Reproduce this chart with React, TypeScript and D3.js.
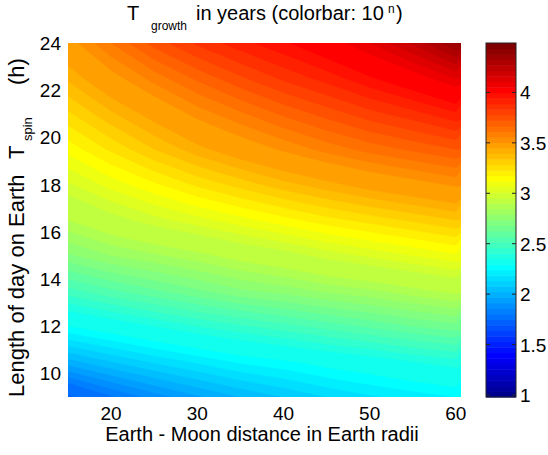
import { useMemo } from 'react'
import * as d3 from 'd3'

// Earth - Moon distance (Earth radii), columns of the grid
const distances = [15, 20, 25, 30, 35, 40, 45, 50, 55, 60]
// length of day (h), rows of the grid, bottom to top
const spins = [9, 10.5, 12, 13.5, 15, 16.5, 18, 19.5, 21, 22.5, 24]
// log10(T_growth / years), one row per spin value
const logGrowth = [
  [1.73, 1.84, 1.92, 1.99, 2.05, 2.10, 2.15, 2.19, 2.22, 2.25],
  [2.03, 2.10, 2.16, 2.21, 2.26, 2.29, 2.33, 2.36, 2.40, 2.43],
  [2.30, 2.35, 2.40, 2.45, 2.49, 2.53, 2.57, 2.61, 2.65, 2.68],
  [2.53, 2.59, 2.64, 2.69, 2.74, 2.77, 2.81, 2.84, 2.88, 2.92],
  [2.74, 2.80, 2.84, 2.88, 2.93, 2.97, 3.02, 3.06, 3.10, 3.14],
  [2.90, 2.97, 3.03, 3.08, 3.13, 3.18, 3.23, 3.27, 3.31, 3.35],
  [3.04, 3.12, 3.19, 3.26, 3.32, 3.38, 3.43, 3.48, 3.52, 3.56],
  [3.17, 3.26, 3.35, 3.43, 3.50, 3.56, 3.62, 3.67, 3.71, 3.75],
  [3.29, 3.39, 3.48, 3.57, 3.64, 3.71, 3.77, 3.83, 3.88, 3.94],
  [3.41, 3.52, 3.62, 3.71, 3.79, 3.86, 3.92, 3.99, 4.06, 4.15],
  [3.52, 3.65, 3.77, 3.86, 3.93, 3.99, 4.06, 4.15, 4.26, 4.40],
]
const xTicks = [20, 30, 40, 50, 60]
const yTicks = [10, 12, 14, 16, 18, 20, 22, 24]
const cbarTicks = [1, 1.5, 2, 2.5, 3, 3.5, 4]
const cLimits = [0.98, 4.49]
const xLimits = [15, 60.6]
const yLimits = [9, 24]
const levelStep = 0.05

const W = 548
const H = 455
const plot = { left: 68, right: 461, top: 43, bottom: 397 }
const cbar = { left: 486, right: 516 }
const font = '"Liberation Sans", Arial, Helvetica, sans-serif'

// matlab jet(64)
function jet(v: number) {
  const n = 64
  let k = Math.floor(((v - cLimits[0]) / (cLimits[1] - cLimits[0])) * n)
  k = Math.max(0, Math.min(n - 1, k))
  const t = (k + 1) / n
  const c = (x: number) => Math.round(255 * Math.max(0, Math.min(1, 1.5 - Math.abs(x))))
  return `rgb(${c(4 * t - 3)},${c(4 * t - 2)},${c(4 * t - 1)})`
}

export default function App() {
  const x = d3.scaleLinear().domain(xLimits).range([plot.left, plot.right])
  const y = d3.scaleLinear().domain(yLimits).range([plot.bottom, plot.top])
  const cy = d3.scaleLinear().domain(cLimits).range([plot.bottom, plot.top])

  const bands = useMemo(() => {
    const nx = distances.length
    const ny = spins.length
    const values = logGrowth.flat()
    const levels = d3.range(Math.round(cLimits[0] / levelStep) + 1, Math.round(cLimits[1] / levelStep) + 1).map(i => i * levelStep)
    const contours = d3.contours().size([nx, ny]).thresholds(levels)(values)
    const dx = distances[1] - distances[0]
    const dy = spins[1] - spins[0]
    const proj = d3.geoTransform({
      point(px, py) {
        this.stream.point(x(distances[0] + (px - 0.5) * dx), y(spins[0] + (py - 0.5) * dy))
      },
    })
    const path = d3.geoPath(proj)
    return contours.map(c => ({ d: path(c) || '', fill: jet(c.value) }))
  }, [])

  const cSteps = d3.range(64).map(k => {
    const v0 = cLimits[0] + ((cLimits[1] - cLimits[0]) * k) / 64
    const v1 = cLimits[0] + ((cLimits[1] - cLimits[0]) * (k + 1)) / 64
    return { v0, v1, fill: jet((v0 + v1) / 2) }
  })

  return (
    <svg width={W} height={H} style={{ position: 'absolute', left: 0, top: 0, background: '#fff' }} fontFamily={font}>
      <defs>
        <clipPath id="plotclip">
          <rect x={plot.left} y={plot.top} width={plot.right - plot.left} height={plot.bottom - plot.top} />
        </clipPath>
      </defs>
      <g clipPath="url(#plotclip)">
        <rect x={plot.left} y={plot.top} width={plot.right - plot.left} height={plot.bottom - plot.top} fill={jet(logGrowth[0][0])} />
        {bands.map((b, i) => (
          <path key={i} d={b.d} fill={b.fill} stroke={b.fill} strokeWidth={0.5} />
        ))}
      </g>

      {/* axis tick labels */}
      {xTicks.map(t => (
        <text key={t} x={x(t)} y={420} fontSize={19} textAnchor="middle">{t}</text>
      ))}
      {yTicks.map(t => (
        <text key={t} x={61} y={y(t) + 7} fontSize={19} textAnchor="end">{t}</text>
      ))}

      {/* x label */}
      <text x={262} y={441} fontSize={20} textAnchor="middle">Earth - Moon distance in Earth radii</text>

      {/* y label */}
      <g fontSize={22}>
        <text transform="translate(24,397) rotate(-90)">Length of day on Earth</text>
        <text transform="translate(24,159) rotate(-90)">T</text>
        <text transform="translate(32,141) rotate(-90)" fontSize={13}>spin</text>
        <text transform="translate(24,85) rotate(-90)">(h)</text>
      </g>

      {/* title */}
      <g fontSize={20}>
        <text x={127} y={20}>T</text>
        <text x={151} y={30} fontSize={12}>growth</text>
        <text x={196} y={20}>in years (colorbar: 10</text>
        <text x={388} y={13} fontSize={12}>n</text>
        <text x={396} y={20}>)</text>
      </g>

      {/* colorbar */}
      {cSteps.map((s, i) => (
        <rect key={i} x={cbar.left} y={cy(s.v1)} width={cbar.right - cbar.left} height={cy(s.v0) - cy(s.v1) + 0.5} fill={s.fill} />
      ))}
      <rect x={cbar.left} y={plot.top} width={cbar.right - cbar.left} height={plot.bottom - plot.top} fill="none" stroke="#222" strokeWidth={1} />
      {cbarTicks.map(t => (
        <g key={t}>
          <line x1={cbar.left} x2={cbar.left + 4} y1={cy(t)} y2={cy(t)} stroke="#222" />
          <line x1={cbar.right - 4} x2={cbar.right} y1={cy(t)} y2={cy(t)} stroke="#222" />
          <text x={520} y={cy(t) + 7} fontSize={19}>{t}</text>
        </g>
      ))}
    </svg>
  )
}
